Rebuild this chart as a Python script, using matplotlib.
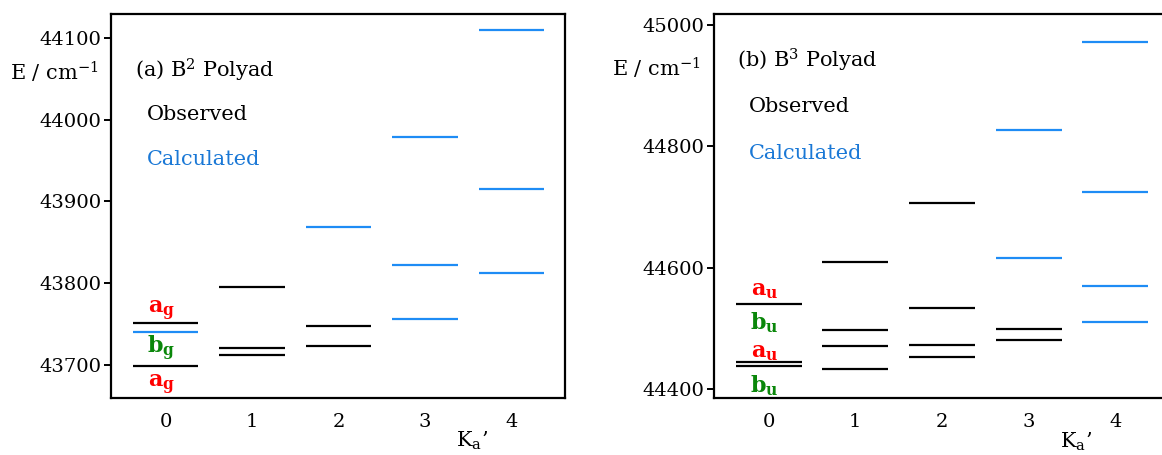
import numpy as np
import matplotlib.pyplot as plt

plt.rcParams['font.family'] = 'DejaVu Serif'
plt.rcParams['mathtext.fontset'] = 'dejavuserif'

ka = [0, 1, 2, 3, 4]

# (a) B2 polyad, energies in cm-1, one list per Ka'
b2_obs = [[43752, 43699], [43796, 43721, 43712], [43748, 43724], [], []]
b2_calc = [[43741], [], [43869], [43979, 43822, 43757], [44109, 43915, 43813]]
b2_sym = ['a_g', 'b_g', 'a_g']
b2_sym_E = [43766, 43720, 43676]

# (b) B3 polyad
b3_obs = [[44540, 44445, 44437], [44610, 44497, 44471, 44433],
          [44706, 44534, 44473, 44453], [44499, 44481], []]
b3_calc = [[], [], [], [44827, 44616], [44972, 44725, 44570, 44510]]
b3_sym = ['a_u', 'b_u', 'a_u', 'b_u']
b3_sym_E = [44563, 44509, 44461, 44405]

blue = '#1e8cf5'
blue_txt = '#1a78d6'
sym_col = {'a': '#ff0000', 'b': '#0a870a'}
hw = 0.38  # half width of a level line

fig = plt.figure(figsize=(11.62, 4.55), dpi=100)
W, H = 1162, 455
ax1 = fig.add_axes([111 / W, 1 - 398 / H, 454 / W, 384 / H])
ax2 = fig.add_axes([714 / W, 1 - 398 / H, 455 / W, 384 / H])


def draw(ax, obs, calc, sym, sym_E, ylim, yticks, title, tpos):
    for k, es in zip(ka, obs):
        for e in es:
            ax.plot([k - hw, k + hw], [e, e], color='black', lw=1.6, solid_capstyle='butt')
    for k, es in zip(ka, calc):
        for e in es:
            ax.plot([k - hw, k + hw], [e, e], color=blue, lw=1.6, solid_capstyle='butt')
    for s, e in zip(sym, sym_E):
        ax.text(-0.05, e, r'$\mathbf{%s}$' % s, color=sym_col[s[0]], fontsize=16,
                ha='center', va='center')
    ax.set_xlim(-0.63, 4.62)
    ax.set_ylim(*ylim)
    ax.set_xticks(ka)
    ax.set_yticks(yticks)
    ax.tick_params(axis='x', length=0, pad=11, labelsize=14)
    ax.tick_params(axis='y', length=5, width=1.4, pad=2, labelsize=14)
    for sp in ax.spines.values():
        sp.set_linewidth(1.6)
    ax.text(tpos[0], tpos[1], title, transform=ax.transAxes, fontsize=15, va='center')
    ax.text(tpos[0] + 0.027, tpos[2], 'Observed', transform=ax.transAxes,
            fontsize=15, va='center', color='black')
    ax.text(tpos[0] + 0.027, tpos[3], 'Calculated', transform=ax.transAxes,
            fontsize=15, va='center', color=blue_txt)


draw(ax1, b2_obs, b2_calc, b2_sym, b2_sym_E, (43660, 44129),
     [43700, 43800, 43900, 44000, 44100], '(a) B$^2$ Polyad', (0.053, 0.854, 0.737, 0.62))
draw(ax2, b3_obs, b3_calc, b3_sym, b3_sym_E, (44385, 45018),
     [44400, 44600, 44800, 45000], '(b) B$^3$ Polyad', (0.05, 0.88, 0.758, 0.638))
ax2.spines['right'].set_visible(False)

for x, y in [(10, 72), (612, 68)]:
    fig.text(x / W, 1 - y / H, 'E / cm$^{-1}$', fontsize=15, va='center')
for x, y in [(456, 441), (1060, 442)]:
    fig.text(x / W, 1 - y / H, "K$_\\mathrm{a}$\u2019", fontsize=15, va='center')

fig.savefig('out.png', dpi=100)
